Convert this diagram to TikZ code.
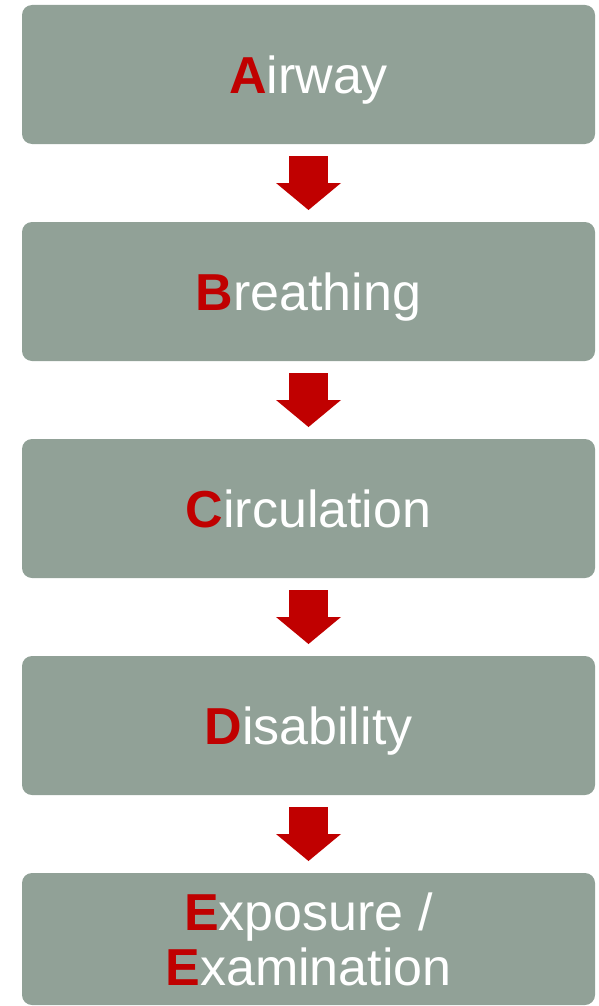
\documentclass[tikz,border=0pt]{standalone}
\usepackage{fontspec}
\setmainfont{Liberation Sans}
\usetikzlibrary{arrows.meta, positioning}
\definecolor{gris}{HTML}{91A197}
\definecolor{rouge}{HTML}{C00000}
\newcommand{\lettre}[1]{\textbf{\color{rouge}#1}}
\tikzset{
    boite/.style={
        fill=gris, rounded corners=10pt, text=white, outer sep=0pt,
        minimum width=573pt, minimum height=139pt,
        font=\fontsize{52}{55}\selectfont
    },
    uneligne/.style={boite, text height=37.5pt, text depth=0pt},
    fleche/.style={
        draw=rouge, line width=39pt, shorten <=12pt, shorten >=12pt,
        -{Triangle[length=27pt, width=65pt, line width=0pt]}
    }
}

\begin{document}
\begin{tikzpicture}[x=1pt, y=1pt]
    \useasboundingbox (0,0) rectangle (598,-1006);
    
    % les cinq étapes
    \node[uneligne] (airway) at (308.5,-74.5) {\lettre{A}irway};
    \node[uneligne, below=78pt of airway] (breathing) {\lettre{B}reathing};
    \node[uneligne, below=78pt of breathing] (circulation) {\lettre{C}irculation};
    \node[uneligne, below=78pt of circulation] (disability) {\lettre{D}isability};
    \node[boite, align=center, minimum height=132pt, below=78pt of disability]
        (exposure) {\lettre{E}xposure /\\\lettre{E}xamination};
    
    % flèches
    \draw[fleche] (airway) -- (breathing);
    \draw[fleche] (breathing) -- (circulation);
    \draw[fleche] (circulation) -- (disability);
    \draw[fleche] (disability) -- (exposure);
    
\end{tikzpicture}
\end{document}
